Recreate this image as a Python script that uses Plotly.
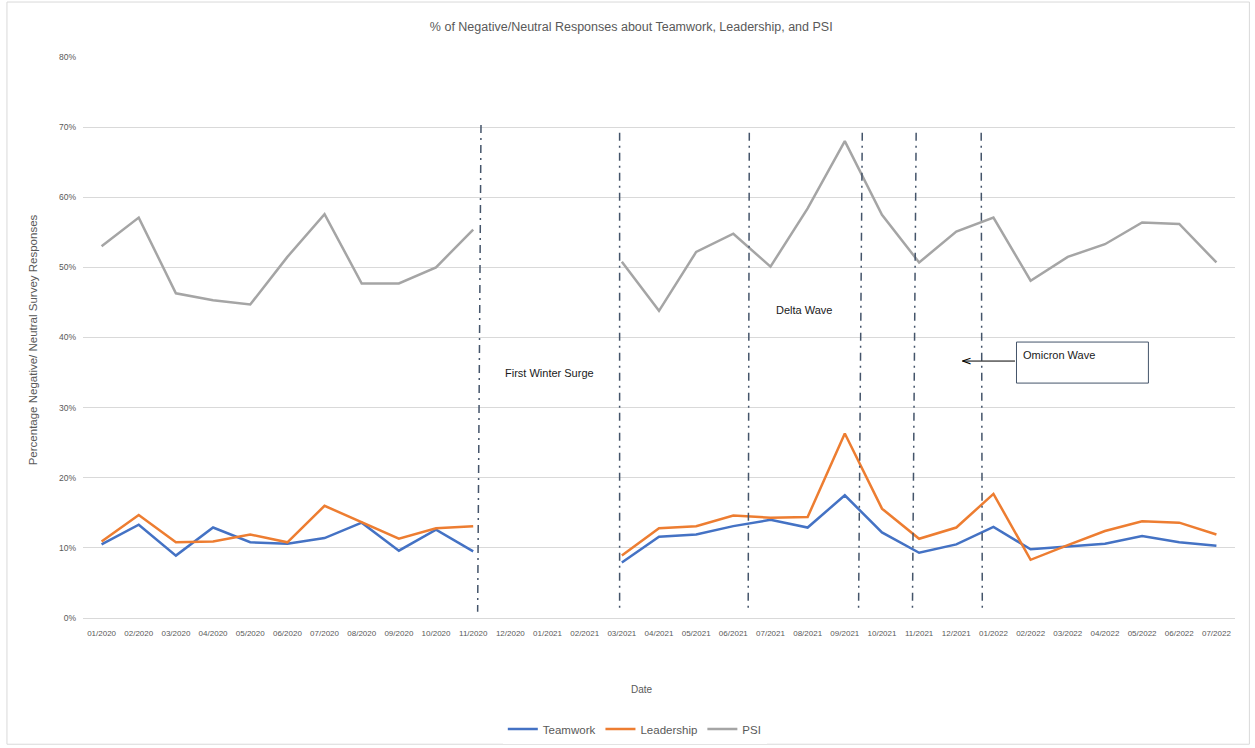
import plotly.graph_objects as go

# Monthly survey periods
months = [
    "01/2020", "02/2020", "03/2020", "04/2020", "05/2020", "06/2020", "07/2020",
    "08/2020", "09/2020", "10/2020", "11/2020", "12/2020", "01/2021", "02/2021",
    "03/2021", "04/2021", "05/2021", "06/2021", "07/2021", "08/2021", "09/2021",
    "10/2021", "11/2021", "12/2021", "01/2022", "02/2022", "03/2022", "04/2022",
    "05/2022", "06/2022", "07/2022",
]

# Share of negative/neutral responses (no survey Dec 2020 - Feb 2021)
teamwork = [
    0.105, 0.133, 0.089, 0.129, 0.108, 0.106, 0.114, 0.136, 0.096, 0.126, 0.095,
    None, None, None,
    0.079, 0.116, 0.119, 0.131, 0.140, 0.129, 0.175, 0.122, 0.093, 0.105, 0.130,
    0.098, 0.102, 0.106, 0.117, 0.108, 0.103,
]
leadership = [
    0.109, 0.147, 0.108, 0.109, 0.119, 0.108, 0.160, 0.136, 0.113, 0.128, 0.131,
    None, None, None,
    0.089, 0.128, 0.131, 0.146, 0.143, 0.144, 0.263, 0.156, 0.113, 0.129, 0.177,
    0.083, 0.104, 0.124, 0.138, 0.136, 0.119,
]
psi = [
    0.530, 0.571, 0.463, 0.453, 0.447, 0.515, 0.576, 0.477, 0.477, 0.500, 0.554,
    None, None, None,
    0.508, 0.438, 0.522, 0.548, 0.501, 0.584, 0.680, 0.575, 0.507, 0.551, 0.571,
    0.481, 0.515, 0.533, 0.564, 0.562, 0.507,
]

series_names = ["Teamwork", "Leadership", "PSI"]
series_colors = ["#4472C4", "#ED7D31", "#A5A5A5"]

# Hand-drawn period markers: (x top, x bottom, y top, y bottom) in axis units
event_lines = [
    (10.21, 10.12, 0.703, 0.009),
    (13.94, 13.94, 0.692, 0.011),
    (17.43, 17.40, 0.692, 0.011),
    (20.47, 20.37, 0.692, 0.011),
    (21.92, 21.82, 0.692, 0.011),
    (23.67, 23.70, 0.692, 0.011),
]
period_labels = [
    ("First Winter Surge", 12.05, 0.349),
    ("Delta Wave", 18.91, 0.439),
]

font_family = "Liberation Sans, Arial, sans-serif"
grey_text = "#595959"
marker_color = "#44546A"

fig = go.Figure()
for name, values, color in zip(series_names, [teamwork, leadership, psi], series_colors):
    fig.add_trace(go.Scatter(
        x=months, y=values, name=name, mode="lines",
        line=dict(color=color, width=2.5),
        connectgaps=False,
    ))

shapes = []
for x_top, x_bot, y_top, y_bot in event_lines:
    shapes.append(dict(
        type="line", xref="x", yref="y",
        x0=x_top, y0=y_top, x1=x_bot, y1=y_bot,
        line=dict(color=marker_color, width=1.5, dash="8px,5px,2px,5px"),
    ))

# Omicron call-out box
shapes.append(dict(
    type="rect", xref="x", yref="y",
    x0=24.62, x1=28.17, y0=0.335, y1=0.3935,
    line=dict(color=marker_color, width=1), fillcolor="white",
))

# Outer chart frame
shapes.append(dict(
    type="rect", xref="paper", yref="paper",
    x0=-0.066, x1=1.0125, y0=-0.225, y1=1.098,
    line=dict(color="#D9D9D9", width=1),
))

annotations = []
for text, x, y in period_labels:
    annotations.append(dict(
        text=text, x=x, y=y, xref="x", yref="y", showarrow=False,
        font=dict(family=font_family, size=11, color="#1a1a1a"),
    ))
annotations.append(dict(
    text="Omicron Wave", x=24.75, y=0.375, xref="x", yref="y",
    xanchor="left", showarrow=False,
    font=dict(family=font_family, size=11, color="#1a1a1a"),
))
annotations.append(dict(
    text="", x=23.16, y=0.3664, xref="x", yref="y",
    ax=24.62, ay=0.3664, axref="x", ayref="y",
    showarrow=True, arrowhead=0, arrowside="end", arrowwidth=1,
    arrowcolor="black", standoff=0,
))
annotations.append(dict(
    text="<", x=23.16, y=0.3664, xref="x", yref="y", showarrow=False,
    xanchor="left", xshift=-3, yshift=1,
    font=dict(family="DejaVu Sans", size=13, color="black"),
))
annotations.append(dict(
    text="Date", x=0.485, y=-0.1283, xref="paper", yref="paper", showarrow=False,
    xanchor="center", yanchor="middle",
    font=dict(family=font_family, size=10, color=grey_text),
))
annotations.append(dict(
    text="Percentage Negative/ Neutral Survey Responses", textangle=-90,
    x=-0.0434, y=0.495, xref="paper", yref="paper", showarrow=False,
    xanchor="center", yanchor="middle",
    font=dict(family=font_family, size=11.5, color=grey_text),
))

fig.update_layout(
    width=1255, height=748,
    margin=dict(l=83, r=20, t=57, b=130, autoexpand=False),
    paper_bgcolor="white", plot_bgcolor="white",
    title=dict(
        text="% of Negative/Neutral Responses about Teamwork, Leadership, and PSI",
        x=0.503, xanchor="center", y=0.964, yanchor="middle",
        font=dict(family=font_family, size=12.5, color=grey_text),
    ),
    legend=dict(
        orientation="h", x=0.479, xanchor="center", y=-0.198, yanchor="middle",
        font=dict(family=font_family, size=11.5, color=grey_text),
    ),
    shapes=shapes,
    annotations=annotations,
    showlegend=True,
)
fig.update_xaxes(
    type="category", categoryorder="array", categoryarray=months,
    range=[-0.5, 30.5], showgrid=False, showline=False,
    tickfont=dict(family=font_family, size=8, color=grey_text),
    tickangle=0, ticks="", ticklabelstandoff=9,
)
fig.update_yaxes(
    range=[0, 0.8], dtick=0.1, tickformat=".0%",
    showgrid=True, gridcolor="#D9D9D9", gridwidth=1,
    zeroline=True, zerolinecolor="#D9D9D9", zerolinewidth=1,
    tickfont=dict(family=font_family, size=8.5, color=grey_text),
    ticks="", ticklabelstandoff=6,
)

fig.write_html("out.html")
